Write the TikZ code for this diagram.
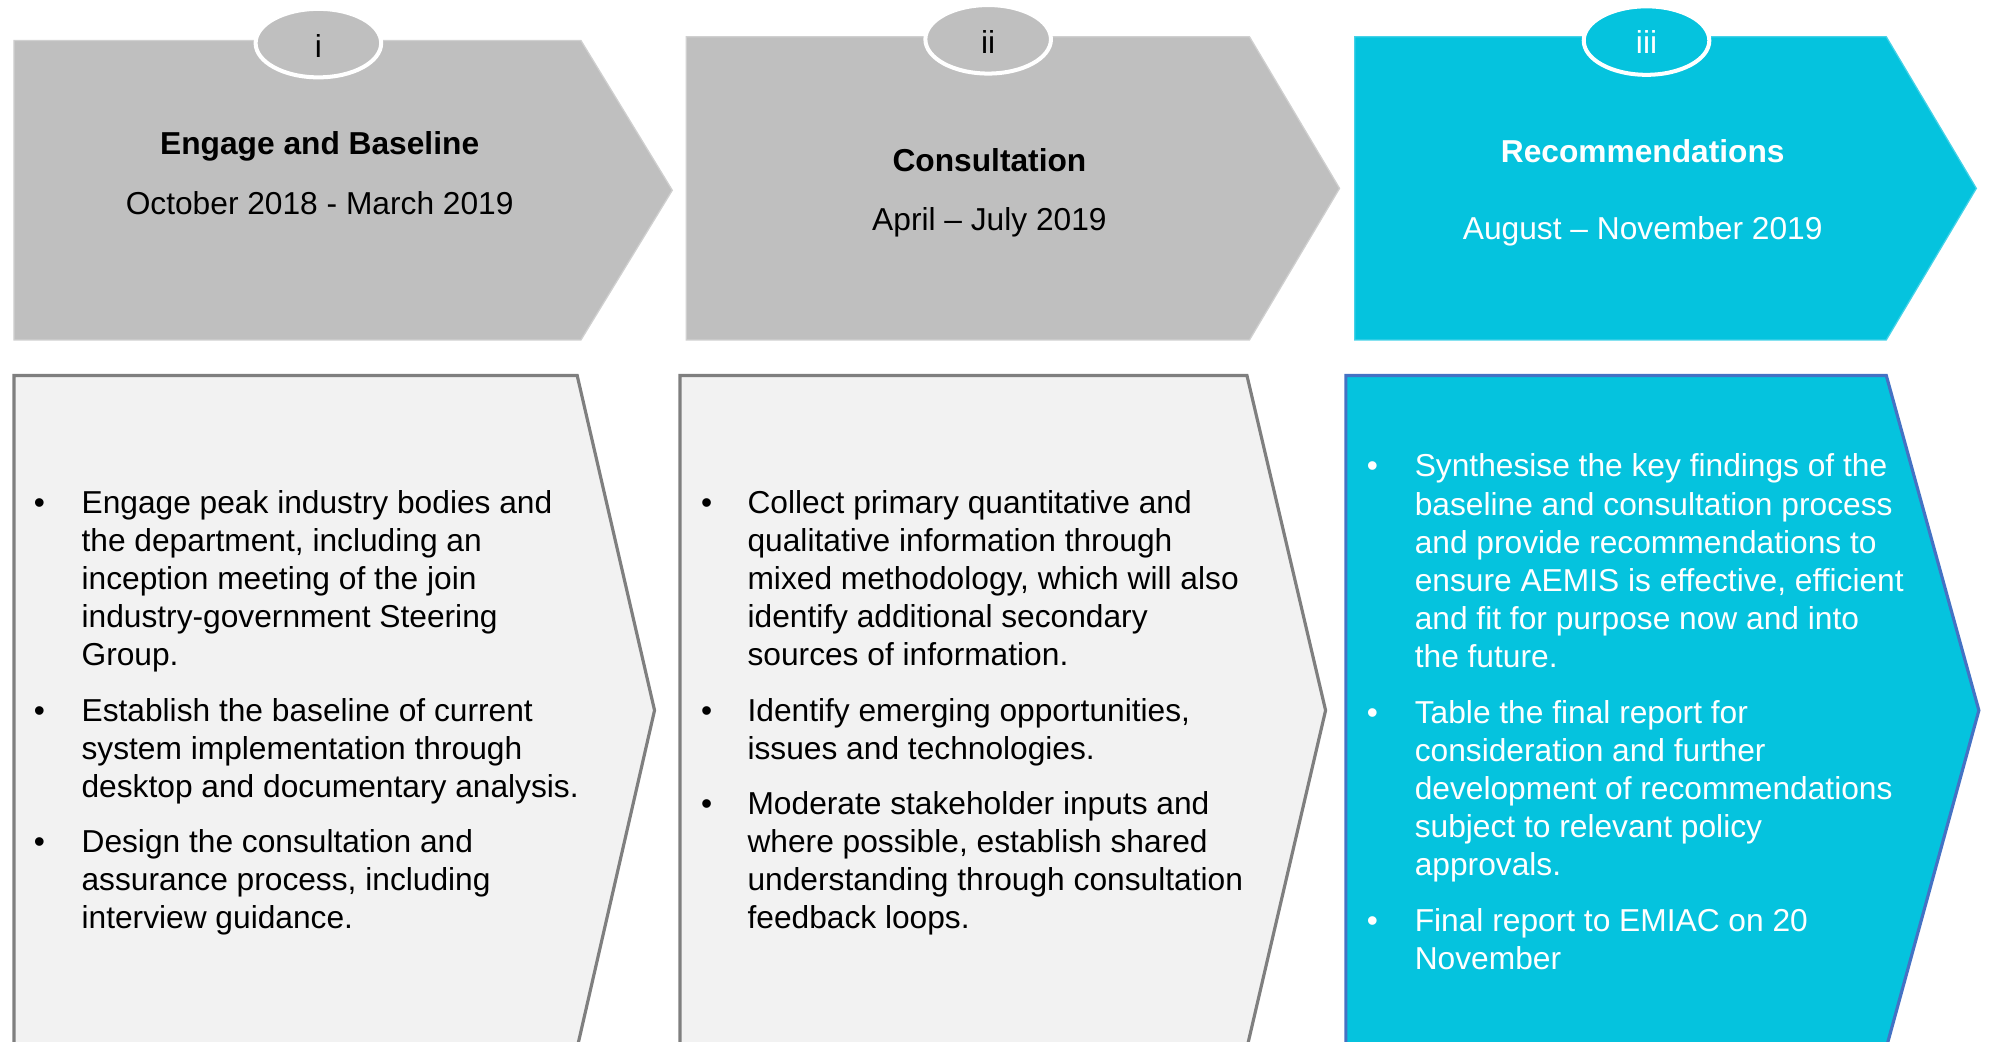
\documentclass[tikz,border=0pt]{standalone}
\usepackage{fontspec}
\setmainfont{Liberation Sans}
\usetikzlibrary{shapes.geometric}
\definecolor{topgray}{HTML}{BFBFBF}
\definecolor{topedge}{HTML}{D0D0D0}
\definecolor{botgray}{HTML}{F2F2F2}
\definecolor{edgegray}{HTML}{7F7F7F}
\definecolor{aqua}{HTML}{05C3DE}
\definecolor{aquaedge}{HTML}{45D2E8}
\definecolor{edgeblue}{HTML}{4472C4}
\definecolor{txtdark}{HTML}{000000}
\newcommand{\bodylines}[1]{\begin{tabular}[t]{@{}l@{}}#1\end{tabular}}
\begin{document}
\begin{tikzpicture}[x=0.6pt,y=-0.6pt,
  txtfont/.style={font=\fontsize{15}{18}\selectfont},
  bodytxt/.style={txtfont,anchor=base west,inner sep=0pt},
  bul/.style={txtfont,anchor=base,inner sep=0pt},
  ttl/.style={font=\fontsize{15}{18}\selectfont\bfseries,anchor=base,inner sep=0pt},
  datetxt/.style={txtfont,anchor=base,inner sep=0pt},
  badge/.style={ellipse,draw=white,line width=1.9pt,minimum width=59.4pt,minimum height=32.4pt,inner sep=0pt},
  numtxt/.style={txtfont,anchor=center,inner sep=0pt},
  topgrey/.style={fill=topgray,draw=topedge,line width=0.6pt},
  topaqua/.style={fill=aqua,draw=aquaedge,line width=0.6pt},
  botgrey/.style={fill=botgray,draw=edgegray,line width=1.5pt,line join=miter},
  botaqua/.style={fill=aqua,draw=edgeblue,line width=1.5pt,line join=miter}
]
\path[use as bounding box] (0,0) rectangle (1568,821);
\clip (0,0) rectangle (1568,821);

% top chevrons
\path[topgrey] (11,32) -- (458,32) -- (530,150) -- (458,268) -- (11,268) -- cycle;
\path[topgrey] (541,29) -- (985,29) -- (1056,148.5) -- (985,268) -- (541,268) -- cycle;
\path[topaqua] (1068,29) -- (1487,29) -- (1558,148.5) -- (1487,268) -- (1068,268) -- cycle;

% badges
\node[badge,fill=topgray] (b1) at (251,34) {};
\node[badge,fill=topgray] (b2) at (779,31) {};
\node[badge,fill=aqua] (b3) at (1298,32) {};
\node[numtxt,text=txtdark] (n1) at (251,36) {i};
\node[numtxt,text=txtdark] (n2) at (779,33) {ii};
\node[numtxt,text=white] (n3) at (1298,33) {iii};

% titles
\node[ttl,text=txtdark] (t1) at (252,122) {Engage and Baseline};
\node[datetxt,text=txtdark] (d1) at (252,169) {October 2018 - March 2019};
\node[ttl,text=txtdark] (t2) at (780,135) {Consultation};
\node[datetxt,text=txtdark] (d2) at (780,182) {April – July 2019};
\node[ttl,text=white] (t3) at (1295,128) {Recommendations};
\node[datetxt,text=white] (d3) at (1295,189) {August – November 2019};

% bottom chevrons
\path[botgrey] (11,296) -- (455,296) -- (516,560) -- (455,826) -- (11,826) -- cycle;
\path[botgrey] (536,296) -- (983,296) -- (1045,560) -- (983,826) -- (536,826) -- cycle;
\path[botaqua] (1061,296) -- (1487,296) -- (1560,560) -- (1487,826) -- (1061,826) -- cycle;

% column 1
\node[bul,text=txtdark] (c1b1) at (31,405) {•};
\node[bodytxt,text=txtdark] (c1p1) at (64,405) {\bodylines{Engage peak industry bodies and\\the department, including an\\inception meeting of the join\\industry-government Steering\\Group.}};
\node[bul,text=txtdark] (c1b2) at (31,569) {•};
\node[bodytxt,text=txtdark] (c1p2) at (64,569) {\bodylines{Establish the baseline of current\\system implementation through\\desktop and documentary analysis.}};
\node[bul,text=txtdark] (c1b3) at (31,672) {•};
\node[bodytxt,text=txtdark] (c1p3) at (64,672) {\bodylines{Design the consultation and\\assurance process, including\\interview guidance.}};

% column 2
\node[bul,text=txtdark] (c2b1) at (557,405) {•};
\node[bodytxt,text=txtdark] (c2p1) at (589,405) {\bodylines{Collect primary quantitative and\\qualitative information through\\mixed methodology, which will also\\identify additional secondary\\sources of information.}};
\node[bul,text=txtdark] (c2b2) at (557,569) {•};
\node[bodytxt,text=txtdark] (c2p2) at (589,569) {\bodylines{Identify emerging opportunities,\\issues and technologies.}};
\node[bul,text=txtdark] (c2b3) at (557,642) {•};
\node[bodytxt,text=txtdark] (c2p3) at (589,642) {\bodylines{Moderate stakeholder inputs and\\where possible, establish shared\\understanding through consultation\\feedback loops.}};

% column 3
\node[bul,text=white] (c3b1) at (1082,376) {•};
\node[bodytxt,text=white] (c3p1) at (1115,376) {\bodylines{Synthesise the key findings of the\\baseline and consultation process\\and provide recommendations to\\ensure AEMIS is effective, efficient\\and fit for purpose now and into\\the future.}};
\node[bul,text=white] (c3b2) at (1082,570) {•};
\node[bodytxt,text=white] (c3p2) at (1115,570) {\bodylines{Table the final report for\\consideration and further\\development of recommendations\\subject to relevant policy\\approvals.}};
\node[bul,text=white] (c3b3) at (1082,734) {•};
\node[bodytxt,text=white] (c3p3) at (1115,734) {\bodylines{Final report to EMIAC on 20\\November}};
\end{tikzpicture}
\end{document}
